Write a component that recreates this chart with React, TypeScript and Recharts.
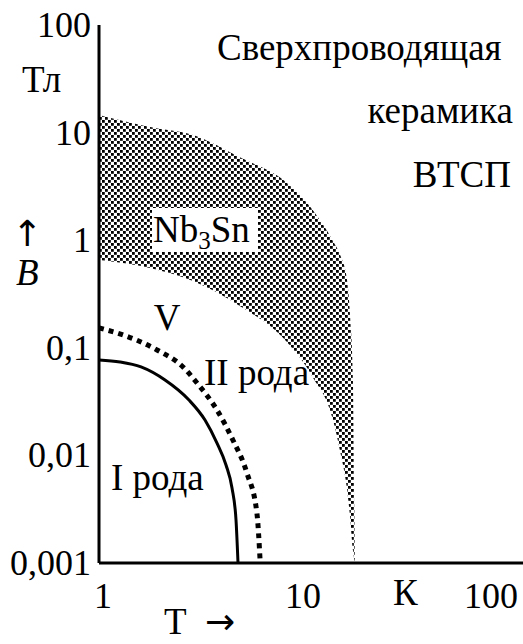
import React from "react";
import { ComposedChart, Area, Line, XAxis, YAxis } from "recharts";

// Critical field B (Тл) vs temperature T (K), log-log
const typeIT = [1, 1.274, 1.622, 2.138, 2.818, 3.388, 3.89, 4.315, 4.624, 4.842, 4.955];
const typeIB = [0.077, 0.0738, 0.0664, 0.0502, 0.0327, 0.0213, 0.013, 0.00815, 0.00498, 0.00251, 0.001];

const typeIIT = [1, 1.32, 1.95, 2.63, 3.09, 3.89, 4.67, 5.49, 6.16, 6.4];
const typeIIB = [0.153, 0.1315, 0.0955, 0.0664, 0.0471, 0.0264, 0.0139, 0.00686, 0.0029, 0.001];

// Nb3Sn band: lower and upper critical field
const nbT = [1, 1.8, 2.95, 5.06, 8.7, 11.7, 14.8, 16.0, 17.4, 18.0, 18.6, 19.0];
const nbHigh = [14.6, 11.3, 9.5, 5.9, 3.4, 1.91, 0.98, 0.74, 0.42, 0.2, 0.05, 0.001];
const nbLow = [0.655, 0.552, 0.418, 0.245, 0.113, 0.0536, 0.0213, 0.0112, 0.00476, 0.00268, 0.00132, 0.001];

const xTicks = [1, 10, 100];
const yTicks = [0.001, 0.01, 0.1, 1, 10, 100];

const typeI = typeIT.map((T, i) => ({ T, B: typeIB[i] }));
const typeII = typeIIT.map((T, i) => ({ T, B: typeIIB[i] }));
const band = nbT.map((T, i) => ({ T, range: [nbLow[i], nbHigh[i]] }));

const FONT = "Liberation Serif";
const ARROW_FONT = "DejaVu Sans";

const XTick = ({ x, y, payload }: any) => {
  const last = payload.value === 100;
  return (
    <text
      x={last ? x + 19 : x + 4}
      y={y + 45}
      textAnchor={last ? "end" : "middle"}
      fontFamily={FONT}
      fontSize={36}
      fill="#000"
    >
      {payload.value}
    </text>
  );
};

const YTick = ({ x, y, payload }: any) => (
  <text x={x + 1} y={y + 12} textAnchor="end" fontFamily={FONT} fontSize={36} fill="#000">
    {String(payload.value).replace(".", ",")}
  </text>
);

export default function App() {
  return (
    <div style={{ position: "absolute", left: 0, top: 0, width: 523, height: 644, background: "#fff" }}>
      <ComposedChart width={523} height={644} margin={{ top: 25, right: 0, bottom: 0, left: 0 }}>
        <defs>
          <pattern id="dots" width={6} height={6} patternUnits="userSpaceOnUse">
            <rect x={0} y={0} width={2.8} height={2.8} fill="#000" />
            <rect x={3} y={3} width={2.8} height={2.8} fill="#000" />
          </pattern>
        </defs>
        <XAxis
          dataKey="T"
          type="number"
          scale="log"
          domain={[1, 131.8]}
          allowDataOverflow
          ticks={xTicks}
          height={81}
          tickLine={false}
          tickSize={0}
          tickMargin={0}
          axisLine={{ stroke: "#000", strokeWidth: 3 }}
          tick={<XTick />}
        />
        <YAxis
          type="number"
          scale="log"
          domain={[0.001, 100]}
          allowDataOverflow
          ticks={yTicks}
          width={99}
          tickLine={false}
          tickSize={0}
          tickMargin={9}
          axisLine={{ stroke: "#000", strokeWidth: 3 }}
          tick={<YTick />}
        />
        <Area
          data={band}
          dataKey="range"
          type="monotone"
          fill="url(#dots)"
          fillOpacity={1}
          stroke="none"
          isAnimationActive={false}
        />
        <Line
          data={typeII}
          dataKey="B"
          type="monotone"
          stroke="#000"
          strokeWidth={5}
          strokeDasharray="5 5"
          dot={false}
          isAnimationActive={false}
        />
        <Line
          data={typeI}
          dataKey="B"
          type="monotone"
          stroke="#000"
          strokeWidth={3}
          dot={false}
          isAnimationActive={false}
        />
      </ComposedChart>
      <svg
        width={523}
        height={644}
        style={{ position: "absolute", left: 0, top: 0, pointerEvents: "none" }}
        fontFamily={FONT}
        fontSize={37}
        fill="#000"
      >
        <text x={217} y={60}>Сверхпроводящая</text>
        <text x={513} y={123} textAnchor="end">керамика</text>
        <text x={511} y={187} textAnchor="end">ВТСП</text>
        <text x={22} y={92}>Тл</text>
        <text x={27} y={246} textAnchor="middle" fontFamily={ARROW_FONT} fontSize={36}>↑</text>
        <text x={16} y={285} fontStyle="italic">B</text>
        <rect x={152} y={208} width={106} height={44} fill="#fff" />
        <text x={153} y={242}>
          Nb<tspan fontSize={25} dy={7}>3</tspan>
          <tspan dy={-7}>Sn</tspan>
        </text>
        <text x={167} y={330} textAnchor="middle">V</text>
        <text x={204} y={385}>II рода</text>
        <text x={111} y={490}>I рода</text>
        <text x={393} y={605}>К</text>
        <text x={164} y={634}>Т</text>
        <text x={205} y={634} fontFamily={ARROW_FONT} fontSize={36}>→</text>
      </svg>
    </div>
  );
}
